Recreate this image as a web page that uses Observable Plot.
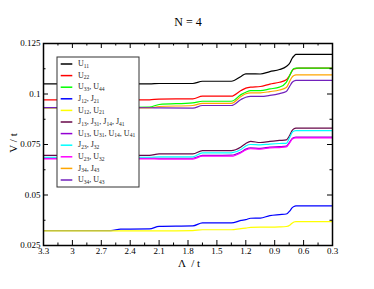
<!DOCTYPE html>
<html><head><meta charset="utf-8">
<script src="https://cdn.jsdelivr.net/npm/d3@7"></script>
<script src="https://cdn.jsdelivr.net/npm/@observablehq/plot@0.6"></script>
<style>body{margin:0;background:#fff}</style>
</head><body><div id="chart"></div>
<script>
// Λ/t sample points (x axis runs from 3.3 down to 0.3)
const lambda = [3.3, 2.6, 2.5, 2.2, 2.1, 1.75, 1.65, 1.35, 1.25, 1.2, 1.15, 1.05, 0.95, 0.85, 0.78, 0.74, 0.72, 0.7, 0.68, 0.65, 0.3];

const U11 = [0.1050,0.1050,0.1050,0.1050,0.1052,0.1052,0.1063,0.1063,0.1087,0.1100,0.1100,0.1099,0.1111,0.1121,0.1136,0.1156,0.1176,0.1188,0.1196,0.1196,0.1196];
const U22 = [0.0971,0.0971,0.0971,0.0971,0.0975,0.0976,0.0989,0.0989,0.1017,0.1029,0.1034,0.1037,0.1049,0.1058,0.1070,0.1096,0.1114,0.1124,0.1126,0.1128,0.1128];
const U33 = [0.0933,0.0933,0.0933,0.0935,0.0948,0.0956,0.0964,0.0964,0.0997,0.1009,0.1017,0.1017,0.1025,0.1034,0.1058,0.1096,0.1116,0.1126,0.1128,0.1128,0.1128];
const J12 = [0.0324,0.0324,0.0331,0.0332,0.0345,0.0347,0.0362,0.0362,0.0374,0.0378,0.0385,0.0386,0.0398,0.0403,0.0406,0.0423,0.0436,0.0443,0.0446,0.0446,0.0446];
const U12 = [0.0322,0.0322,0.0322,0.0322,0.0322,0.0324,0.0328,0.0328,0.0334,0.0336,0.0340,0.0341,0.0341,0.0342,0.0344,0.0352,0.0360,0.0366,0.0368,0.0368,0.0368];
const J13 = [0.0696,0.0696,0.0696,0.0696,0.0704,0.0704,0.0720,0.0720,0.0738,0.0755,0.0765,0.0760,0.0765,0.0770,0.0773,0.0799,0.0819,0.0828,0.0831,0.0831,0.0831];
const U13 = [0.0683,0.0683,0.0683,0.0683,0.0682,0.0682,0.0696,0.0697,0.0713,0.0727,0.0733,0.0731,0.0737,0.0739,0.0742,0.0766,0.0779,0.0785,0.0787,0.0787,0.0787];
const J23 = [0.0687,0.0687,0.0687,0.0687,0.0689,0.0689,0.0709,0.0709,0.0725,0.0743,0.0750,0.0748,0.0752,0.0755,0.0756,0.0790,0.0809,0.0817,0.0819,0.0819,0.0819];
const U23 = [0.0679,0.0679,0.0679,0.0679,0.0678,0.0678,0.0692,0.0692,0.0709,0.0723,0.0729,0.0727,0.0733,0.0735,0.0738,0.0762,0.0775,0.0781,0.0783,0.0783,0.0783];
const J34 = [0.0931,0.0931,0.0931,0.0931,0.0938,0.0943,0.0954,0.0954,0.0988,0.1001,0.1006,0.1006,0.1012,0.1020,0.1032,0.1067,0.1084,0.1092,0.1095,0.1095,0.1095];
const U34 = [0.0933,0.0933,0.0933,0.0932,0.0931,0.0930,0.0943,0.0943,0.0973,0.0984,0.0988,0.0988,0.0993,0.1002,0.1012,0.1042,0.1057,0.1064,0.1067,0.1067,0.1067];

const seriesValues = [U11, U22, U33, J12, U12, J13, U13, J23, U23, J34, U34];
const seriesColors = ["#000000","#ff0000","#00ff00","#0000ff","#ffff00","#670748","#9400d3","#00ffff","#ff00ff","#ffa500","#7221bc"];
// legend labels: [symbol, subscript] pairs
const seriesLabels = [
  [["U","11"]],
  [["U","22"]],
  [["U","33"],["U","44"]],
  [["J","12"],["J","21"]],
  [["U","12"],["U","21"]],
  [["J","13"],["J","31"],["J","14"],["J","41"]],
  [["U","13"],["U","31"],["U","14"],["U","41"]],
  [["J","23"],["J","32"]],
  [["U","23"],["U","32"]],
  [["J","34"],["J","43"]],
  [["U","34"],["U","43"]]
];

const xTicks = [3.3, 3, 2.7, 2.4, 2.1, 1.8, 1.5, 1.2, 0.9, 0.6, 0.3];
const xMinor = [3.15, 2.85, 2.55, 2.25, 1.95, 1.65, 1.35, 1.05, 0.75, 0.45];
const yTicks = [0.025, 0.05, 0.075, 0.1, 0.125];
const yMinor = [0.0375, 0.0625, 0.0875, 0.1125];

const W = 374, H = 289;
const M = {top: 43, right: 42, bottom: 44, left: 43};
const iw = W - M.left - M.right;
const ih = H - M.top - M.bottom;
const serif = "'Liberation Serif', 'Times New Roman', serif";

const marks = [];
seriesValues.forEach((vals, k) => {
  const rows = lambda.map((l, i) => ({l, v: vals[i]}));
  marks.push(Plot.line(rows, {x: "l", y: "v", stroke: seriesColors[k], strokeWidth: 1.2, curve: "monotone-x"}));
});
// inward ticks on all four sides
marks.push(Plot.tickY(yTicks, {y: d => d, insetRight: iw - 5, stroke: "black"}));
marks.push(Plot.tickY(yTicks, {y: d => d, insetLeft: iw - 5, stroke: "black"}));
marks.push(Plot.tickY(yMinor, {y: d => d, insetRight: iw - 2.5, stroke: "black"}));
marks.push(Plot.tickY(yMinor, {y: d => d, insetLeft: iw - 2.5, stroke: "black"}));
marks.push(Plot.tickX(xTicks, {x: d => d, insetTop: ih - 5, stroke: "black"}));
marks.push(Plot.tickX(xTicks, {x: d => d, insetBottom: ih - 5, stroke: "black"}));
marks.push(Plot.tickX(xMinor, {x: d => d, insetTop: ih - 2.5, stroke: "black"}));
marks.push(Plot.tickX(xMinor, {x: d => d, insetBottom: ih - 2.5, stroke: "black"}));
marks.push(Plot.axisX({ticks: xTicks, tickSize: 0, tickPadding: 2, tickFormat: d => String(d), label: null}));
marks.push(Plot.axisY({ticks: yTicks, tickSize: 0, tickPadding: 3, tickFormat: d => String(d), label: null}));
marks.push(Plot.frame({stroke: "black", strokeWidth: 1.5}));

const svgEl = Plot.plot({
  width: W, height: H,
  marginTop: M.top, marginRight: M.right, marginBottom: M.bottom, marginLeft: M.left,
  x: {domain: [3.3, 0.3]},
  y: {domain: [0.025, 0.125]},
  style: {fontFamily: serif, fontSize: "9px", color: "black", background: "white", overflow: "visible"},
  marks
});
document.getElementById("chart").appendChild(svgEl);

const svg = d3.select(svgEl);
svg.append("text").attr("x", 188).attr("y", 26).attr("text-anchor", "middle")
  .attr("font-family", serif).attr("font-size", 12).attr("fill", "black").text("N = 4");
svg.append("text").attr("transform", "translate(13,143) rotate(-90)").attr("text-anchor", "middle")
  .attr("dominant-baseline", "central")
  .attr("font-family", serif).attr("font-size", 11).attr("fill", "black").text("V / t");
svg.append("text").attr("x", 189).attr("y", 267).attr("text-anchor", "middle")
  .attr("font-family", serif).attr("font-size", 11).attr("fill", "black")
  .style("white-space", "pre").text("Λ  / t");

// legend
const lg = svg.append("g").attr("text-anchor", "start");
lg.append("rect").attr("x", 57).attr("y", 57).attr("width", 82).attr("height", 130)
  .attr("fill", "white").attr("stroke", "#333").attr("stroke-width", 1);
seriesLabels.forEach((parts, i) => {
  const yy = 64 + i * 11.6;
  lg.append("line").attr("x1", 60.7).attr("x2", 72.3).attr("y1", yy).attr("y2", yy)
    .attr("stroke", seriesColors[i]).attr("stroke-width", 1.5);
  const t = lg.append("text").attr("x", 78).attr("y", yy + 2.2).attr("text-anchor", "start")
    .attr("font-family", serif).attr("font-size", 8).attr("fill", "#222");
  parts.forEach((p, j) => {
    t.append("tspan").attr("dy", j === 0 ? 0 : -1.5).text((j === 0 ? "" : ", ") + p[0]);
    t.append("tspan").attr("dy", 1.5).attr("font-size", 5.5).text(p[1]);
  });
});
</script>
</body></html>
